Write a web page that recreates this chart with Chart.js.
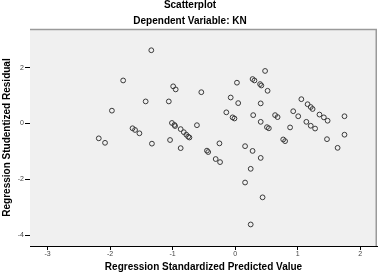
<!DOCTYPE html>
<html lang="en">
<head>
    <meta charset="UTF-8">
    <title>Scatterplot</title>
    <style>
      html, body { margin: 0; padding: 0; background: #fff; }
      #grafico { width: 382px; height: 275px; }
    </style>
</head>
<body>
  <div id="grafico">
    <canvas id="myChart" width="382" height="275"></canvas>
  </div>
</body>
</html>
<script src="https://cdn.jsdelivr.net/npm/chart.js"></script>
<script>

  // valores (predito padronizado / residuo studentizado)
  var predito = [
    -1.34, -1.79, -1.43, -1.97, -1.64, -1.60, -1.53, -2.18, -2.08, -1.33,
    -1.04, -0.87, -0.99, -0.95, -0.54, 0.03, 0.28, 0.31, -1.06, -0.07,
    0.05, -0.14, -0.04, -0.01, 0.29, -1.01, -0.97, -0.96, -0.87, -0.82,
    -0.78, -0.75, -0.73, -0.61, -0.45, -0.43, -0.25, -0.31, -0.24, 0.16,
    0.28, 0.48, 0.40, 0.42, 0.52, 0.41, 0.41, 0.51, 0.54, 0.64,
    0.68, 1.06, 1.16, 1.21, 1.24, 0.93, 1.01, 1.35, 1.42, 1.48,
    1.75, 1.14, 1.21, 1.28, 0.88, 0.77, 0.80, 1.47, 1.75, 1.64,
    0.41, 0.25, 0.16, 0.44, 0.25
  ];
  var residuo = [
    2.62, 1.54, 0.79, 0.46, -0.17, -0.23, -0.35, -0.53, -0.69, -0.72,
    -0.59, -0.88, 1.33, 1.22, 1.12, 1.46, 1.59, 1.54, 0.79, 0.93,
    0.73, 0.40, 0.22, 0.18, 0.30, 0.02, -0.05, -0.09, -0.20, -0.31,
    -0.40, -0.47, -0.50, -0.06, -0.97, -1.02, -0.71, -1.27, -1.38, -0.81,
    -0.98, 1.88, 1.41, 1.36, 1.17, 0.72, 0.06, -0.13, -0.17, 0.30,
    0.23, 0.87, 0.69, 0.59, 0.52, 0.44, 0.26, 0.32, 0.22, 0.10,
    0.26, 0.06, -0.08, -0.18, -0.14, -0.57, -0.63, -0.56, -0.40, -0.87,
    -1.23, -1.62, -2.11, -2.64, -3.61
  ];

  var ticksX = [-3, -2, -1, 0, 1, 2];
  var ticksY = [-4, -2, 0, 2];

  var pontos = [];
  for (var i = 0; i < predito.length; i++) {
    pontos.push({ x: predito[i], y: residuo[i] });
  }

  // fundo cinza da area do grafico + borda de cima e da direita
  var fundoPlot = {
    id: "fundoPlot",
    beforeDatasetsDraw: function (chart) {
      var ctx = chart.ctx;
      var a = chart.chartArea;
      ctx.save();
      ctx.fillStyle = "#f0f0f0";
      ctx.fillRect(a.left, a.top, a.right - a.left, a.bottom - a.top);
      ctx.strokeStyle = "#9a9a9a";
      ctx.lineWidth = 1.5;
      ctx.beginPath();
      ctx.moveTo(a.left, a.top + 0.5);
      ctx.lineTo(a.right - 0.75, a.top + 0.5);
      ctx.lineTo(a.right - 0.75, a.bottom);
      ctx.stroke();
      ctx.restore();
    },
  };

  var fonteTick = { family: "'Liberation Sans', Arial, sans-serif", size: 7 };
  var fonteTitulo = { family: "'Liberation Sans', Arial, sans-serif", size: 10, weight: "bold" };

  const config = {
    type: "scatter",
    data: {
      datasets: [
        {
          label: "residuos",
          data: pontos,
          pointStyle: "circle",
          pointRadius: 2.4,
          pointBorderWidth: 1,
          borderColor: "#3a3a3a",
          backgroundColor: "rgba(0,0,0,0)",
        },
      ],
    },
    options: {
      responsive: false,
      animation: false,
      layout: {
        padding: { left: 0, right: 2, top: 0, bottom: 0 },
      },
      plugins: {
        legend: { display: false },
        tooltip: { enabled: false },
        title: {
          display: true,
          text: "Scatterplot",
          color: "#000",
          font: { family: fonteTitulo.family, size: 10, weight: "bold", lineHeight: 1 },
          padding: { top: 0, bottom: 5 },
        },
        subtitle: {
          display: true,
          text: "Dependent Variable: KN",
          color: "#000",
          font: fonteTitulo,
          padding: { top: 0, bottom: 2 },
        },
      },
      scales: {
        x: {
          type: "linear",
          min: -3.28,
          max: 2.27,
          afterBuildTicks: function (scale) {
            scale.ticks = ticksX.map(function (v) { return { value: v }; });
          },
          afterFit: function (scale) {
            scale.height = 29;
          },
          grid: { drawOnChartArea: false, drawTicks: true, tickLength: 4, color: "#000" },
          border: { display: true, color: "#000", width: 1 },
          ticks: { color: "#444", font: fonteTick, padding: 0, maxRotation: 0 },
          title: {
            display: true,
            text: "Regression Standardized Predicted Value",
            color: "#000",
            font: fonteTitulo,
            padding: { top: 0, bottom: 2 },
          },
        },
        y: {
          type: "linear",
          min: -4.38,
          max: 3.38,
          afterBuildTicks: function (scale) {
            scale.ticks = ticksY.map(function (v) { return { value: v }; });
          },
          afterFit: function (scale) {
            scale.width = 30;
          },
          grid: { drawOnChartArea: false, drawTicks: true, tickLength: 5, color: "#000" },
          border: { display: true, color: "#000", width: 1 },
          ticks: { color: "#444", font: fonteTick, padding: 1 },
          title: {
            display: true,
            text: "Regression Studentized Residual",
            color: "#000",
            font: fonteTitulo,
            padding: { top: 1, bottom: 0 },
          },
        },
      },
    },
    plugins: [fundoPlot],
  };

  const myChart = new Chart(document.getElementById("myChart"), config);

</script>
